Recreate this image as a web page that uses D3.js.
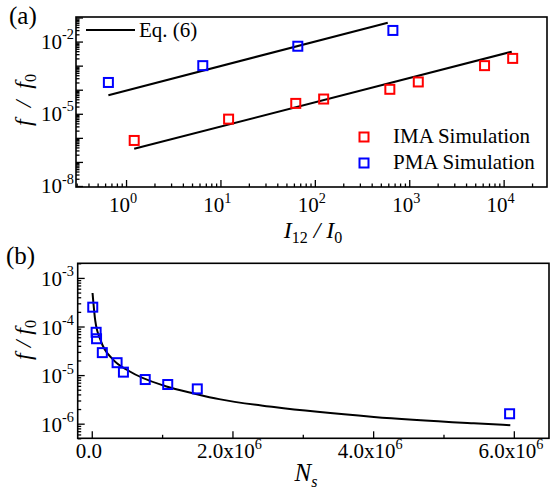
<!DOCTYPE html>
<html>
<head>
<meta charset="utf-8">
<script src="https://cdn.jsdelivr.net/npm/d3@7"></script>
<style>
  body { margin: 0; background: #fff; }
  svg text { font-family: "Liberation Serif", "DejaVu Serif", serif; fill: #000; }
</style>
</head>
<body>
<div id="chart"></div>
<script>
// panel (a): f/f0 vs I12/I0
var imaI = [1.22, 12.2, 62.8, 124, 623, 1247, 6280, 12470];
var imaF = [7.8e-7, 6.0e-6, 2.7e-5, 4.1e-5, 1.04e-4, 2.1e-4, 1.0e-3, 2.0e-3];
var pmaI = [0.65, 6.5, 66, 671];
var pmaF = [2.0e-4, 1.0e-3, 6.4e-3, 0.029];
// Eq. (6) lines, end points
var imaEqI = [1.22, 12190];
var imaEqF = [3.5e-7, 3.8e-3];
var pmaEqI = [0.65, 592];
var pmaEqF = [5.9e-5, 0.061];
var xTicksA = [1, 10, 100, 1000, 10000];
var yTicksA = [1e-8, 1e-5, 1e-2];

// panel (b): f/f0 vs Ns
var nsSim = [0.014e6, 0.062e6, 0.068e6, 0.15e6, 0.36e6, 0.45e6, 0.76e6, 1.08e6, 1.50e6, 5.94e6];
var fSim = [2.5e-4, 7.6e-5, 5.6e-5, 2.9e-5, 1.8e-5, 1.15e-5, 8.1e-6, 6.4e-6, 5.2e-6, 1.6e-6];
var nsEq = [0.011e6, 0.05e6, 0.13e6, 0.30e6, 0.535e6, 1.05e6, 1.48e6, 1.81e6, 2.59e6, 4.01e6, 5.43e6, 5.95e6];
var fEq = [4.9e-4, 1.3e-4, 5.0e-5, 2.1e-5, 1.2e-5, 5.9e-6, 4.1e-6, 3.2e-6, 2.2e-6, 1.38e-6, 1.02e-6, 9.3e-7];
var xTicksB = [0, 2e6, 4e6, 6e6];
var xMinorB = [1e6, 3e6, 5e6];
var yTicksB = [1e-6, 1e-5, 1e-4, 1e-3];

var svg = d3.select("#chart").append("svg")
    .attr("width", 550)
    .attr("height", 495)
    .attr("font-family", "Liberation Serif, serif");

// label with a superscript, e.g. "10" + "-2"
function supLabel(sel, base, exp, fs) {
  sel.append("tspan").text(base);
  if (exp !== null) {
    sel.append("tspan")
      .attr("font-size", fs * 0.68)
      .attr("dy", -fs * 0.45)
      .text(exp);
  }
}

function ticks(g, axis, tr, vals, size) {
  g.append("g")
    .attr("transform", tr)
    .call(axis.tickValues(vals).tickSize(size).tickFormat(""))
    .call(function(a) { a.select(".domain").remove(); })
    .selectAll("line").attr("stroke", "#000").attr("stroke-width", 1.3);
}

function isPow(v) {
  var l = Math.log10(v);
  return Math.abs(l - Math.round(l)) < 1e-6;
}

function squares(g, xs, ys, x, y, color) {
  g.selectAll(null)
    .data(xs)
    .enter().append("rect")
    .attr("x", function(d) { return x(d) - 4.5; })
    .attr("y", function(d, i) { return y(ys[i]) - 4.5; })
    .attr("width", 9)
    .attr("height", 9)
    .attr("fill", "none")
    .attr("stroke", color)
    .attr("stroke-width", 2);
}

// ---------- panel (a) ----------
var xa = d3.scaleLog().domain([0.295, 28800]).range([76, 547]);
var ya = d3.scaleLog().domain([1e-8, 1e-1]).range([186, 17.5]);
var ga = svg.append("g");

var lineA = d3.line()
    .x(function(d) { return xa(d[0]); })
    .y(function(d) { return ya(d[1]); });

ga.append("path")
  .attr("d", lineA(d3.zip(imaEqI, imaEqF)))
  .attr("fill", "none").attr("stroke", "#000").attr("stroke-width", 2);
ga.append("path")
  .attr("d", lineA(d3.zip(pmaEqI, pmaEqF)))
  .attr("fill", "none").attr("stroke", "#000").attr("stroke-width", 2);

squares(ga, imaI, imaF, xa, ya, "#ff0000");
squares(ga, pmaI, pmaF, xa, ya, "#0000ff");

var xaAll = xa.ticks();
var yaAll = ya.ticks();
ticks(ga, d3.axisBottom(xa), "translate(0,187)", xaAll.filter(function(d) { return !isPow(d); }), -3.5);
ticks(ga, d3.axisBottom(xa), "translate(0,187)", xaAll.filter(isPow), -7);
ticks(ga, d3.axisLeft(ya), "translate(76,0)", yaAll.filter(function(d) { return !isPow(d); }), -3.5);
ticks(ga, d3.axisLeft(ya), "translate(76,0)", yaAll.filter(isPow), -7);

ga.append("rect")
  .attr("x", 76).attr("y", 17)
  .attr("width", 547 - 76).attr("height", 187 - 17)
  .attr("fill", "none").attr("stroke", "#000").attr("stroke-width", 1.6);

xTicksA.forEach(function(v) {
  ga.append("text")
    .attr("x", xa(v) - 3).attr("y", 212)
    .attr("text-anchor", "middle")
    .attr("font-size", 21)
    .call(supLabel, "10", String(Math.round(Math.log10(v))), 21);
});
yTicksA.forEach(function(v) {
  ga.append("text")
    .attr("x", 74).attr("y", ya(v) + 7)
    .attr("text-anchor", "end")
    .attr("font-size", 21)
    .call(supLabel, "10", String(Math.round(Math.log10(v))), 21);
});

// legend
ga.append("line")
  .attr("x1", 86).attr("x2", 135).attr("y1", 30).attr("y2", 30)
  .attr("stroke", "#000").attr("stroke-width", 2);
ga.append("text").attr("x", 139).attr("y", 37).attr("font-size", 21).text("Eq. (6)");
[["IMA Simulation", "#ff0000", 137], ["PMA Simulation", "#0000ff", 163]].forEach(function(d) {
  ga.append("rect")
    .attr("x", 364 - 4.5).attr("y", d[2] - 4.5)
    .attr("width", 9).attr("height", 9)
    .attr("fill", "none").attr("stroke", d[1]).attr("stroke-width", 2);
  ga.append("text").attr("x", 393).attr("y", d[2] + 6).attr("font-size", 21).text(d[0]);
});

// titles
ga.append("text").attr("x", 9).attr("y", 24).attr("font-size", 25).text("(a)");
var tya = ga.append("text")
  .attr("transform", "translate(31,100) rotate(-90)")
  .attr("text-anchor", "middle")
  .attr("font-size", 24).attr("font-style", "italic")
  .attr("xml:space", "preserve");
tya.append("tspan").text("f  /  f");
tya.append("tspan").attr("font-size", 16).attr("dy", 5).attr("font-style", "normal").text("0");

var txa = ga.append("text")
  .attr("x", 313).attr("y", 238)
  .attr("text-anchor", "middle")
  .attr("font-size", 24).attr("font-style", "italic")
  .attr("xml:space", "preserve");
txa.append("tspan").text("I");
txa.append("tspan").attr("font-size", 16).attr("dy", 5).attr("font-style", "normal").text("12");
txa.append("tspan").attr("dy", -5).text(" / I");
txa.append("tspan").attr("font-size", 16).attr("dy", 5).attr("font-style", "normal").text("0");

// ---------- panel (b) ----------
var xb = d3.scaleLinear().domain([-0.2e6, 6.5e6]).range([77.7, 549]);
var yb = d3.scaleLog().domain([5e-7, 2e-3]).range([438.3, 263.3]);
var gb = svg.append("g");

var curveB = d3.line()
    .x(function(d) { return xb(d[0]); })
    .y(function(d) { return yb(d[1]); })
    .curve(d3.curveMonotoneX);

gb.append("path")
  .attr("d", curveB(d3.zip(nsEq, fEq)))
  .attr("fill", "none").attr("stroke", "#000").attr("stroke-width", 2);

squares(gb, nsSim, fSim, xb, yb, "#0000ff");

var ybAll = yb.ticks();
ticks(gb, d3.axisBottom(xb), "translate(0,438.3)", xMinorB, -3.5);
ticks(gb, d3.axisBottom(xb), "translate(0,438.3)", xTicksB, -7);
ticks(gb, d3.axisLeft(yb), "translate(77.7,0)", ybAll.filter(function(d) { return !isPow(d); }), -3.5);
ticks(gb, d3.axisLeft(yb), "translate(77.7,0)", ybAll.filter(isPow), -7);

gb.append("rect")
  .attr("x", 77.7).attr("y", 263.3)
  .attr("width", 549 - 77.7).attr("height", 438.3 - 263.3)
  .attr("fill", "none").attr("stroke", "#000").attr("stroke-width", 1.6);

xTicksB.forEach(function(v) {
  var t = gb.append("text")
    .attr("x", xb(v) - 3).attr("y", 458)
    .attr("text-anchor", "middle")
    .attr("font-size", 21);
  if (v === 0) supLabel(t, "0.0", null, 21);
  else supLabel(t, (v / 1e6).toFixed(1) + "x10", "6", 21);
});
yTicksB.forEach(function(v) {
  gb.append("text")
    .attr("x", 74).attr("y", yb(v) + 8)
    .attr("text-anchor", "end")
    .attr("font-size", 21)
    .call(supLabel, "10", String(Math.round(Math.log10(v))), 21);
});

gb.append("text").attr("x", 6).attr("y", 264).attr("font-size", 25).text("(b)");
var tyb = gb.append("text")
  .attr("transform", "translate(31,340) rotate(-90)")
  .attr("text-anchor", "middle")
  .attr("font-size", 24).attr("font-style", "italic")
  .attr("xml:space", "preserve");
tyb.append("tspan").text("f / f");
tyb.append("tspan").attr("font-size", 16).attr("dy", 5).attr("font-style", "normal").text("0");

var txb = gb.append("text")
  .attr("x", 306).attr("y", 481)
  .attr("text-anchor", "middle")
  .attr("font-size", 25).attr("font-style", "italic");
txb.append("tspan").text("N");
txb.append("tspan").attr("font-size", 16).attr("dy", 6).text("s");
</script>
</body>
</html>
